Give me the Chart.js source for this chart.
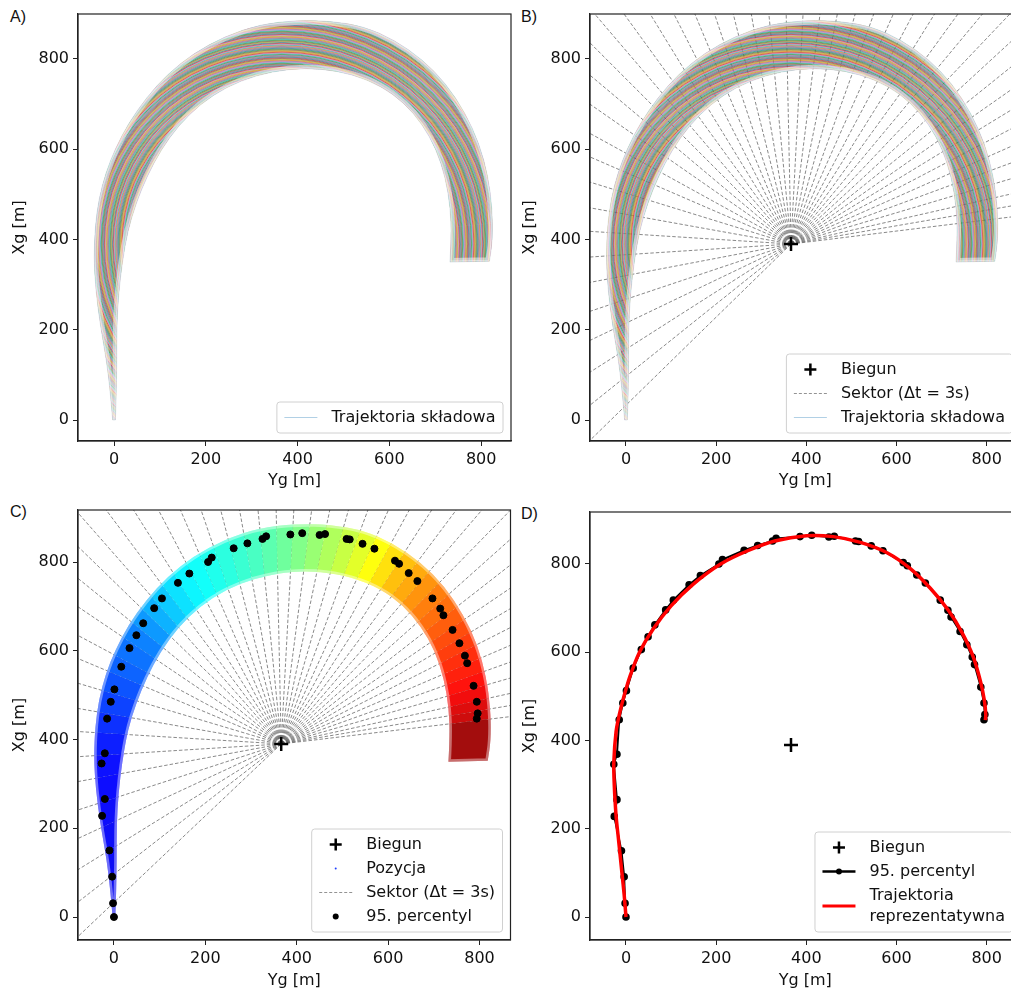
<!DOCTYPE html>
<html>
<head>
<meta charset="utf-8">
<script src="https://cdn.jsdelivr.net/npm/chart.js@4.4.1/dist/chart.umd.min.js"></script>
<style>
  html, body { margin: 0; padding: 0; background: #fff; }
  body { position: relative; width: 1011px; height: 991px; overflow: hidden; }
  canvas { position: absolute; }
  .tag { position: absolute; font: 16px "Liberation Sans", Arial, sans-serif; color: #111; }
</style>
</head>
<body>
<div class="tag" style="left:10px;top:8px">A)</div>
<div class="tag" style="left:521px;top:8px">B)</div>
<div class="tag" style="left:10px;top:503px">C)</div>
<div class="tag" style="left:521px;top:505px">D)</div>
<canvas id="chartA" width="520" height="495" style="left:0;top:0"></canvas>
<canvas id="chartB" width="520" height="495" style="left:510px;top:0"></canvas>
<canvas id="chartC" width="520" height="496" style="left:0;top:495px"></canvas>
<canvas id="chartD" width="520" height="496" style="left:510px;top:495px"></canvas>
<script>
const tickVals = [0, 200, 400, 600, 800];

// pole of the sector grid [Yg, Xg]
const poleYg = 366;
const poleXg = 390;

// 95th percentile per sector
const pctYg = [0, -2, -4, -10, -26, -20, -27, -20, -15, -7, 1, 16, 34, 49, 64, 88, 105, 140, 165, 206,
  214, 262, 292, 325, 333, 386, 412, 450, 462, 509, 516, 544, 570, 615, 624, 645, 664, 697, 714, 721,
  741, 756, 768, 773, 787, 794, 796, 794];
const pctXg = [0, 31, 91, 150, 228, 266, 346, 369, 447, 485, 513, 564, 606, 635, 662, 696, 718, 753, 774, 800,
  810, 831, 842, 852, 858, 862, 865, 861, 863, 852, 851, 841, 830, 803, 796, 775, 757, 718, 695, 680,
  647, 617, 589, 572, 521, 485, 459, 447];

// representative trajectory
const reprYg = [0, -4, -9, -16, -22, -26, -27, -22, -14, -4, 9, 30, 60, 100, 150, 210, 270, 330, 400, 460,
  520, 580, 630, 675, 715, 745, 770, 786, 795, 798, 797];
const reprXg = [0, 50, 100, 170, 230, 300, 350, 420, 462, 502, 546, 600, 652, 705, 755, 800, 830, 852, 864, 862,
  849, 825, 790, 745, 695, 645, 590, 535, 490, 458, 446];

// envelope of the component trajectories (outer and inner side of the turn)
const outerYg = [-3, -8, -16, -30, -40, -44, -41, -33, -18, 3, 31, 71, 117, 174, 241, 319, 401, 474, 545, 611,
  672, 723, 765, 796, 815, 824, 825, 818];
const outerXg = [0, 60, 130, 210, 290, 360, 430, 490, 548, 602, 657, 715, 767, 813, 850, 877, 886, 884, 872, 842,
  799, 746, 681, 612, 540, 469, 400, 352];
const innerYg = [3, 5, 6, 6, 10, 18, 30, 48, 72, 102, 140, 188, 245, 310, 380, 450, 520, 582, 632, 672,
  702, 722, 733, 735, 732];
const innerXg = [0, 60, 130, 210, 280, 350, 420, 480, 540, 598, 652, 700, 738, 764, 778, 779, 766, 740, 703, 655,
  600, 538, 470, 405, 350];

// sector boundaries, degrees counter-clockwise from the +Yg direction
const sectorAngles = [224.3, 218.7, 212.5, 205.6, 198.5, 190.8, 183.7, 176.4, 169.8, 162.9, 156.6, 151.2,
  145.2, 140, 135, 130.5, 126, 121.5, 117, 112.7, 108.4, 104.1, 99.8, 95.5, 91.2, 87, 82.8, 78.6, 74.4,
  70.2, 66, 62, 58, 54, 50.2, 46.4, 42.6, 38.8, 35, 31.3, 27.6, 23.9, 20.2, 16.5, 12.8, 9.8, 7];

// colour scale of the positions along the turn (direction from the pole -> jet level)
const jetAngle = [225, 185, 141, 121, 99, 84, 73.6, 63.8, 56, 46, 33, 17, 1];
const jetLevel = [0.11, 0.13, 0.25, 0.36, 0.43, 0.5, 0.56, 0.625, 0.69, 0.75, 0.81, 0.875, 0.97];

const REACH = 2500;
const TAB10 = ["#1f77b4", "#ff7f0e", "#2ca02c", "#d62728", "#9467bd", "#8c564b", "#e377c2", "#7f7f7f", "#bcbd22", "#17becf"];

Chart.defaults.font.family = "'DejaVu Sans', sans-serif";
Chart.defaults.font.size = 16;
Chart.defaults.color = "#111";

const pts = (xs, ys) => xs.map((v, i) => ({ x: v, y: ys[i] }));

function jet(t) {
  const c = (v) => Math.round(255 * Math.max(0, Math.min(1, v)));
  return `rgb(${c(1.5 - Math.abs(4 * t - 3))},${c(1.5 - Math.abs(4 * t - 2))},${c(1.5 - Math.abs(4 * t - 1))})`;
}

function levelAt(deg) {
  if (deg >= jetAngle[0]) return jetLevel[0];
  for (let i = 1; i < jetAngle.length; i++) {
    if (deg >= jetAngle[i]) {
      const f = (deg - jetAngle[i]) / (jetAngle[i - 1] - jetAngle[i]);
      return jetLevel[i] + f * (jetLevel[i - 1] - jetLevel[i]);
    }
  }
  return jetLevel[jetLevel.length - 1];
}

function rayEnd(deg) {
  const r = (deg * Math.PI) / 180;
  return { x: poleYg + REACH * Math.cos(r), y: poleXg + REACH * Math.sin(r) };
}

// smooth outline through the envelope points
function trace(ctx, sx, sy, xs, ys, start) {
  const p = xs.map((v, i) => [sx.getPixelForValue(v), sy.getPixelForValue(ys[i])]);
  start ? ctx.moveTo(p[0][0], p[0][1]) : ctx.lineTo(p[0][0], p[0][1]);
  for (let i = 1; i < p.length - 1; i++) {
    ctx.quadraticCurveTo(p[i][0], p[i][1], (p[i][0] + p[i + 1][0]) / 2, (p[i][1] + p[i + 1][1]) / 2);
  }
  ctx.lineTo(p[p.length - 1][0], p[p.length - 1][1]);
}

function bandPath(ctx, sx, sy) {
  ctx.beginPath();
  trace(ctx, sx, sy, outerYg, outerXg, true);
  trace(ctx, sx, sy, [...innerYg].reverse(), [...innerXg].reverse(), false);
  ctx.closePath();
}

// draws the trajectory bundle right after its (empty) placeholder dataset
const bundle = {
  id: "bundle",
  afterDatasetDraw(chart, args) {
    const ds = chart.data.datasets[args.index];
    if (!ds.bandStyle) return;
    const { ctx, chartArea: a } = chart;
    const sx = chart.scales.x, sy = chart.scales.y;
    const cx = sx.getPixelForValue(poleYg), cy = sy.getPixelForValue(poleXg);
    ctx.save();
    ctx.beginPath();
    ctx.rect(a.left, a.top, a.width, a.height);
    ctx.clip();
    if (ds.bandStyle === "mix") {
      bandPath(ctx, sx, sy);
      ctx.save();
      ctx.clip();
      ctx.fillStyle = "rgba(110,120,95,0.4)";
      ctx.fill();
      ctx.lineWidth = 1;
      ctx.globalAlpha = 0.6;
      for (let r = 100, k = 0; r < 320; r += 0.8, k++) {
        ctx.strokeStyle = TAB10[(k * 7 + (k >> 2)) % 10];
        ctx.beginPath();
        ctx.arc(cx, cy, r, 0, Math.PI * 2);
        ctx.stroke();
      }
      // sparser members towards the envelope
      ctx.globalAlpha = 1;
      bandPath(ctx, sx, sy);
      ctx.strokeStyle = "rgba(255,255,255,0.5)";
      ctx.lineWidth = 8;
      ctx.stroke();
      ctx.strokeStyle = "rgba(255,255,255,0.45)";
      ctx.lineWidth = 3;
      ctx.stroke();
      ctx.restore();
      bandPath(ctx, sx, sy);
      ctx.strokeStyle = "rgba(120,150,170,0.3)";
      ctx.lineWidth = 0.7;
      ctx.stroke();
    } else {
      const bounds = [300, ...sectorAngles, -90];
      for (let i = 0; i < bounds.length - 1; i++) {
        const p1 = rayEnd(bounds[i]), p2 = rayEnd(bounds[i + 1]);
        const mid = Math.max(-5, Math.min(235, (bounds[i] + bounds[i + 1]) / 2));
        ctx.save();
        ctx.beginPath();
        ctx.moveTo(cx, cy);
        ctx.lineTo(sx.getPixelForValue(p1.x), sy.getPixelForValue(p1.y));
        ctx.lineTo(sx.getPixelForValue(p2.x), sy.getPixelForValue(p2.y));
        ctx.closePath();
        ctx.clip();
        bandPath(ctx, sx, sy);
        ctx.fillStyle = jet(levelAt(mid));
        ctx.globalAlpha = 0.95;
        ctx.fill();
        ctx.clip();
        ctx.globalAlpha = 0.4;
        ctx.strokeStyle = "#fff";
        ctx.lineWidth = 5;
        ctx.stroke();
        ctx.restore();
      }
    }
    ctx.restore();
  },
};

// axes frame on all four sides
const frame = {
  id: "frame",
  afterDatasetsDraw(chart) {
    const { ctx, chartArea: a } = chart;
    ctx.save();
    ctx.strokeStyle = "#222";
    ctx.lineWidth = 1.2;
    ctx.strokeRect(a.left, a.top, a.width, a.height);
    ctx.restore();
  },
};

// legend box in the lower right corner of the axes
const boxLegend = {
  id: "boxLegend",
  afterDraw(chart, args, opts) {
    const items = opts.items;
    if (!items) return;
    const { ctx, chartArea: a } = chart;
    const pad = 7.5, handle = 33, gap = 14, rowH = 16, sep = 8, lineGap = 21;
    ctx.save();
    ctx.font = "16px 'DejaVu Sans'";
    let textW = 0, h = pad * 2 - sep;
    items.forEach((it) => {
      const lines = [].concat(it.label);
      lines.forEach((l) => (textW = Math.max(textW, ctx.measureText(l).width)));
      h += rowH + (lines.length - 1) * lineGap + sep;
    });
    const w = pad + handle + gap + textW + pad;
    const x0 = a.right - 8 - w, y0 = a.bottom - 8 - h;
    ctx.beginPath();
    ctx.roundRect(x0, y0, w, h, 3);
    ctx.fillStyle = "rgba(255,255,255,0.85)";
    ctx.fill();
    ctx.strokeStyle = "#d0d0d0";
    ctx.lineWidth = 1;
    ctx.stroke();
    let y = y0 + pad;
    items.forEach((it) => {
      const lines = [].concat(it.label);
      const hh = rowH + (lines.length - 1) * lineGap;
      const cy = y + hh / 2;
      const hx0 = x0 + pad, hx1 = x0 + pad + handle, hxc = (hx0 + hx1) / 2;
      ctx.save();
      if (it.kind === "plus") {
        ctx.strokeStyle = "#000";
        ctx.lineWidth = 2.5;
        ctx.beginPath();
        ctx.moveTo(hxc - 6, cy); ctx.lineTo(hxc + 6, cy);
        ctx.moveTo(hxc, cy - 6); ctx.lineTo(hxc, cy + 6);
        ctx.stroke();
      } else if (it.kind === "dot") {
        ctx.fillStyle = it.color;
        ctx.beginPath();
        ctx.arc(hxc, cy, it.r, 0, Math.PI * 2);
        ctx.fill();
      } else {
        ctx.strokeStyle = it.color;
        ctx.lineWidth = it.width;
        if (it.dash) ctx.setLineDash(it.dash);
        ctx.beginPath();
        ctx.moveTo(hx0, cy); ctx.lineTo(hx1, cy);
        ctx.stroke();
        if (it.kind === "lineDot") {
          ctx.fillStyle = it.color;
          ctx.beginPath();
          ctx.arc(hxc, cy, 3, 0, Math.PI * 2);
          ctx.fill();
        }
      }
      ctx.restore();
      ctx.fillStyle = "#111";
      ctx.textBaseline = "middle";
      lines.forEach((l, j) => ctx.fillText(l, hx1 + gap, y + rowH / 2 + j * lineGap));
      y += hh + sep;
    });
    ctx.restore();
  },
};

function sectorSets() {
  return sectorAngles.map((deg) => ({
    label: "Sektor (Δt = 3s)",
    data: [{ x: poleYg, y: poleXg }, rayEnd(deg)],
    showLine: true,
    borderColor: "rgba(80,80,80,0.85)",
    borderWidth: 0.8,
    borderDash: [3.5, 2],
    pointRadius: 0,
    order: 10,
  }));
}

const poleSet = {
  label: "Biegun",
  data: [{ x: poleYg, y: poleXg }],
  pointStyle: "cross",
  pointRadius: 7,
  borderColor: "#000",
  borderWidth: 2.5,
  order: 0,
};

function panel(id, box, xr, yr, titlePad, datasets, legendItems) {
  const cv = document.getElementById(id);
  const W = cv.width, H = cv.height;
  const fixTicks = (s) => { s.ticks = tickVals.map((v) => ({ value: v })); };
  return new Chart(cv, {
    type: "scatter",
    data: { datasets },
    options: {
      responsive: false,
      animation: false,
      devicePixelRatio: 1,
      events: [],
      layout: { padding: { top: box.top, right: W - box.right, left: 0, bottom: 0 } },
      plugins: { legend: { display: false }, tooltip: { enabled: false }, boxLegend: { items: legendItems } },
      scales: {
        x: {
          type: "linear", min: xr[0], max: xr[1],
          afterBuildTicks: fixTicks,
          afterFit: (s) => { s.height = H - box.bottom; },
          ticks: { padding: 4, maxRotation: 0 },
          grid: { drawOnChartArea: false, drawTicks: true, tickLength: 5, color: "#222" },
          border: { display: true, color: "#222", width: 1.2 },
          title: { display: true, text: "Yg [m]", padding: { top: 0, bottom: titlePad.bottom } },
        },
        y: {
          type: "linear", min: yr[0], max: yr[1],
          afterBuildTicks: fixTicks,
          afterFit: (s) => { s.width = box.left; },
          ticks: { padding: 4 },
          grid: { drawOnChartArea: false, drawTicks: true, tickLength: 5, color: "#222" },
          border: { display: true, color: "#222", width: 1.2 },
          title: { display: true, text: "Xg [m]", padding: { top: titlePad.left, bottom: 0 } },
        },
      },
    },
    plugins: [bundle, frame, boxLegend],
  });
}

const memberLegend = { label: "Trajektoria składowa", kind: "line", color: "rgba(31,119,180,0.35)", width: 1 };
const poleLegend = { label: "Biegun", kind: "plus" };
const sectorLegend = { label: "Sektor (Δt = 3s)", kind: "line", color: "rgba(85,85,85,0.8)", width: 0.8, dash: [3, 2] };

// A) component trajectories
panel("chartA", { left: 78, top: 14, right: 511, bottom: 441 }, [-78.5, 865], [-46.5, 899.7],
  { left: 10, bottom: 4.4 },
  [{ label: "Trajektoria składowa", data: [], bandStyle: "mix", order: 5 }],
  [memberLegend]);

// B) trajectories with the sector grid
panel("chartB", { left: 80, top: 14, right: 511, bottom: 441 }, [-79.8, 875], [-46.5, 899.7],
  { left: 10, bottom: 4.4 },
  [poleSet, { label: "Trajektoria składowa", data: [], bandStyle: "mix", order: 5 }, ...sectorSets()],
  [poleLegend, sectorLegend, memberLegend]);

// C) positions coloured along the turn, 95th percentile per sector
panel("chartC", { left: 78, top: 15, right: 511, bottom: 445 }, [-78.7, 867.8], [-51.8, 917.2],
  { left: 10, bottom: 0.4 },
  [
    poleSet,
    { label: "95. percentyl", data: pts(pctYg, pctXg), pointRadius: 3.5, backgroundColor: "#000", borderColor: "#000", order: 1 },
    { label: "Pozycja", data: [], bandStyle: "jet", order: 5 },
    ...sectorSets(),
  ],
  [poleLegend, { label: "Pozycja", kind: "dot", color: "#1f3fff", r: 1 }, sectorLegend,
    { label: "95. percentyl", kind: "dot", color: "#000", r: 3 }]);

// D) representative trajectory
panel("chartD", { left: 80, top: 17, right: 511, bottom: 445 }, [-79.8, 875], [-52.1, 917.8],
  { left: 10, bottom: 0.4 },
  [
    poleSet,
    { label: "Trajektoria reprezentatywna", data: pts(reprYg, reprXg), showLine: true, tension: 0.3,
      borderColor: "#f00", borderWidth: 3.5, pointRadius: 0, order: 1 },
    { label: "95. percentyl", data: pts(pctYg, pctXg), showLine: true, borderColor: "#000", borderWidth: 2,
      pointRadius: 2.8, backgroundColor: "#000", order: 2 },
  ],
  [poleLegend, { label: "95. percentyl", kind: "lineDot", color: "#000", width: 2.5 },
    { label: ["Trajektoria", "reprezentatywna"], kind: "line", color: "#f00", width: 3 }]);
</script>
</body>
</html>
